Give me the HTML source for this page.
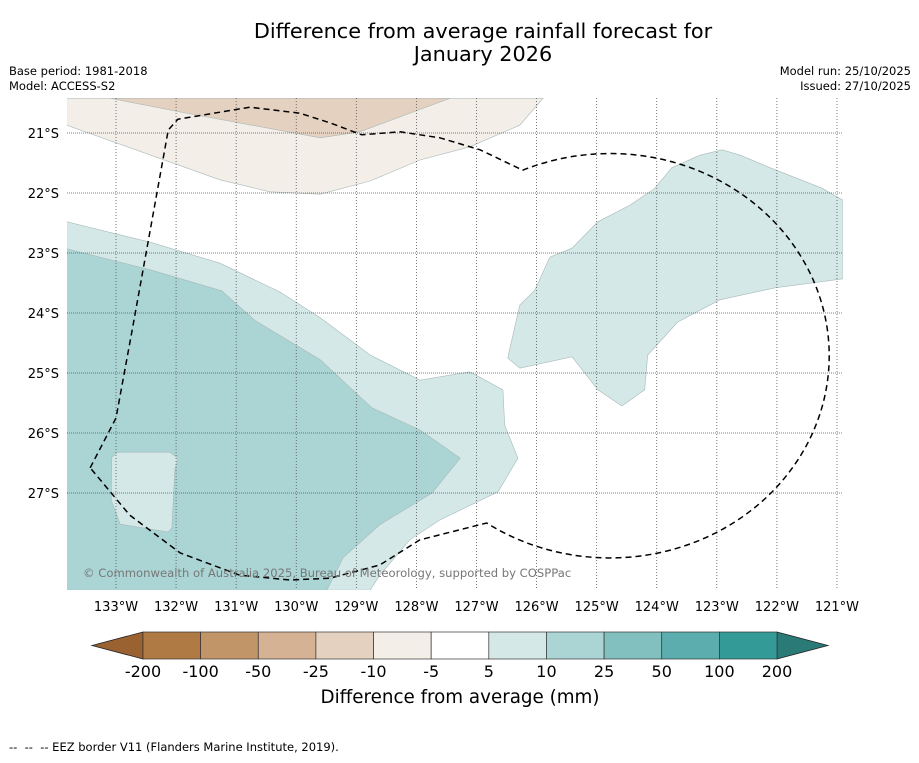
<!DOCTYPE html>
<html><head><meta charset="utf-8"><style>
body{margin:0;background:#fff;width:919px;height:758px;overflow:hidden;font-family:"Liberation Sans","DejaVu Sans",sans-serif}
svg text{font-family:"DejaVu Sans","Liberation Sans",sans-serif}
</style></head><body>
<svg id="chart" width="919" height="758">
<text x="483" y="38" font-size="20.8" text-anchor="middle">Difference from average rainfall forecast for</text>
<text x="483" y="61" font-size="20.8" text-anchor="middle">January 2026</text>
<text x="9" y="75" font-size="11.5">Base period: 1981-2018</text>
<text x="9" y="90" font-size="11.5">Model: ACCESS-S2</text>
<text x="911" y="75" font-size="11.5" text-anchor="end">Model run: 25/10/2025</text>
<text x="911" y="90" font-size="11.5" text-anchor="end">Issued: 27/10/2025</text>
<defs><clipPath id="mapclip"><rect x="67" y="98" width="776" height="492"/></clipPath></defs>
<g id="map" clip-path="url(#mapclip)"></g>
<g id="axes"></g>
<g id="cbar"></g>
<text x="460" y="703" font-size="18.3" text-anchor="middle">Difference from average (mm)</text>
<text x="9" y="751" font-size="11.5" style="white-space:pre">--  --  -- EEZ border V11 (Flanders Marine Institute, 2019).</text>
</svg>
<script>
const lonTicks=[133,132,131,130,129,128,127,126,125,124,123,122,121];
const latTicks=[21,22,23,24,25,26,27];
const cbarLabels=["-200","-100","-50","-25","-10","-5","5","10","25","50","100","200"];
const cbarColors=["#b07a44","#c29568","#d4b293","#e4d1c0","#f3eee8","#ffffff","#d5e8e8","#abd5d5","#82c0bf","#5badae","#339a98"];
const extendColors=["#9b6231","#2a7a78"];
const tanLight=[[133.82,20.87],[131.27,21.78],[130.44,21.98],[129.60,22.02],[128.77,21.80],[127.94,21.45],[127.11,21.23],[126.28,20.87],[125.89,20.42],[133.82,20.42]];
const tanDark=[[133.10,20.42],[131.93,20.65],[129.60,21.08],[128.94,20.98],[127.44,20.42]];
const tealLight=[[133.82,22.48],[132.43,22.82],[131.27,23.17],[130.27,23.65],[129.60,24.08],[128.77,24.70],[127.94,25.12],[127.11,24.98],[126.56,25.28],[126.53,25.87],[126.31,26.42],[126.64,26.98],[127.61,27.45],[128.11,27.78],[128.61,28.37],[128.77,28.62],[133.82,28.62]];
const tealMid=[[133.82,22.93],[132.43,23.28],[131.24,23.63],[130.69,24.12],[129.60,24.78],[128.74,25.58],[127.94,25.95],[127.27,26.42],[127.74,27.00],[128.61,27.53],[129.22,28.08],[129.49,28.62],[133.82,28.62]];
const tealBox=[[133.07,26.40],[132.97,26.32],[132.10,26.32],[131.97,26.42],[132.02,26.62],[132.07,27.58],[132.13,27.65],[132.93,27.52],[133.08,27.12]];
const tealRight=[[126.48,24.75],[126.28,24.92],[125.41,24.73],[124.98,25.28],[124.58,25.55],[124.20,25.28],[124.15,24.70],[123.65,24.15],[122.95,23.78],[122.03,23.58],[120.90,23.43],[120.90,22.12],[121.25,21.92],[122.11,21.58],[122.61,21.37],[122.91,21.28],[123.28,21.37],[123.75,21.58],[124.03,21.92],[124.44,22.20],[124.98,22.48],[125.41,22.92],[125.78,23.07],[126.03,23.62],[126.28,23.87]];
const eezNorth=[[133.43,26.58],[133.00,25.75],[132.73,24.28],[132.40,22.45],[132.13,20.95],[131.97,20.77],[130.77,20.57],[129.94,20.67],[129.44,20.83],[128.91,21.03],[128.27,20.98],[127.61,21.08],[126.94,21.28],[126.23,21.62]];
const eezArcEnd=[126.83,27.50];
const eezArcRadius=[3.65,3.37];
const eezSouth=[[126.83,27.50],[127.94,27.78],[128.61,28.20],[129.44,28.42],[130.10,28.45],[130.94,28.37],[131.93,28.00],[132.77,27.37],[133.43,26.58]];

const NS="http://www.w3.org/2000/svg";
const X=lon=>116+(133-lon)*60.08;
const Y=lat=>133+(lat-21)*60;
function mk(tag,attrs,parent){const e=document.createElementNS(NS,tag);for(const k in attrs)e.setAttribute(k,attrs[k]);parent.appendChild(e);return e;}
const map=document.getElementById('map'),axes=document.getElementById('axes'),cbar=document.getElementById('cbar');
mk('rect',{x:67,y:98,width:776,height:492,fill:'#fff'},map);
function poly(pts,fill,name){const p=mk('polygon',{points:pts.map(q=>X(q[0])+','+Y(q[1])).join(' '),fill:fill,stroke:'#a8b8b8','stroke-width':0.6},map);

}
poly(tanLight,cbarColors[4],'contour-minus10-to-minus5');
poly(tanDark,cbarColors[3],'contour-minus25-to-minus10');
poly(tealLight,cbarColors[6],'contour-5-to-10-west');
poly(tealMid,cbarColors[7],'contour-10-to-25');
poly(tealBox,cbarColors[6],'contour-5-to-10-inner');
poly(tealRight,cbarColors[6],'contour-5-to-10-east');
lonTicks.forEach((t,i)=>{const l=mk('line',{x1:X(t),x2:X(t),y1:98,y2:590,stroke:'#555','stroke-width':0.8,'stroke-dasharray':'1,2'},map);


const tx=mk('text',{x:X(t),y:611,'font-size':13,'text-anchor':'middle'},axes);tx.textContent=t+'°W';

});
latTicks.forEach(t=>{const l=mk('line',{x1:67,x2:843,y1:Y(t),y2:Y(t),stroke:'#555','stroke-width':0.8,'stroke-dasharray':'1,1'},map);


const tx=mk('text',{x:59,y:Y(t)+5,'font-size':13,'text-anchor':'end'},axes);tx.textContent=t+'°S';

});
let d='M'+eezNorth.map(q=>X(q[0])+' '+Y(q[1])).join(' L');
d+=' A '+(eezArcRadius[0]*60.08)+' '+(eezArcRadius[1]*60)+' 0 1 1 '+X(eezArcEnd[0])+' '+Y(eezArcEnd[1]);
d+=' L'+eezSouth.map(q=>X(q[0])+' '+Y(q[1])).join(' L');
const eez=mk('path',{d:d,fill:'none',stroke:'#000','stroke-width':1.5,'stroke-dasharray':'6,4'},map);


const cr=mk('text',{x:83,y:577,'font-size':11.6,fill:'#777'},map);cr.textContent='© Commonwealth of Australia 2025, Bureau of Meteorology, supported by COSPPac';


const cx0=143,cw=(777-143)/cbarColors.length,cy=632,ch=27;
mk('polygon',{points:`92,${cy+ch/2} ${cx0},${cy} ${cx0},${cy+ch}`,fill:extendColors[0],stroke:'#222','stroke-width':0.8},cbar);
mk('polygon',{points:`828,${cy+ch/2} 777,${cy} 777,${cy+ch}`,fill:extendColors[1],stroke:'#222','stroke-width':0.8},cbar);
cbarColors.forEach((c,i)=>{const r=mk('rect',{x:cx0+i*cw,y:cy,width:cw,height:ch,fill:c,stroke:'#333','stroke-width':0.7},cbar);

});
cbarLabels.forEach((s,i)=>{const t=mk('text',{x:cx0+i*cw,y:677,'font-size':16,'text-anchor':'middle'},cbar);t.textContent=s;

});
</script>
</body></html>
